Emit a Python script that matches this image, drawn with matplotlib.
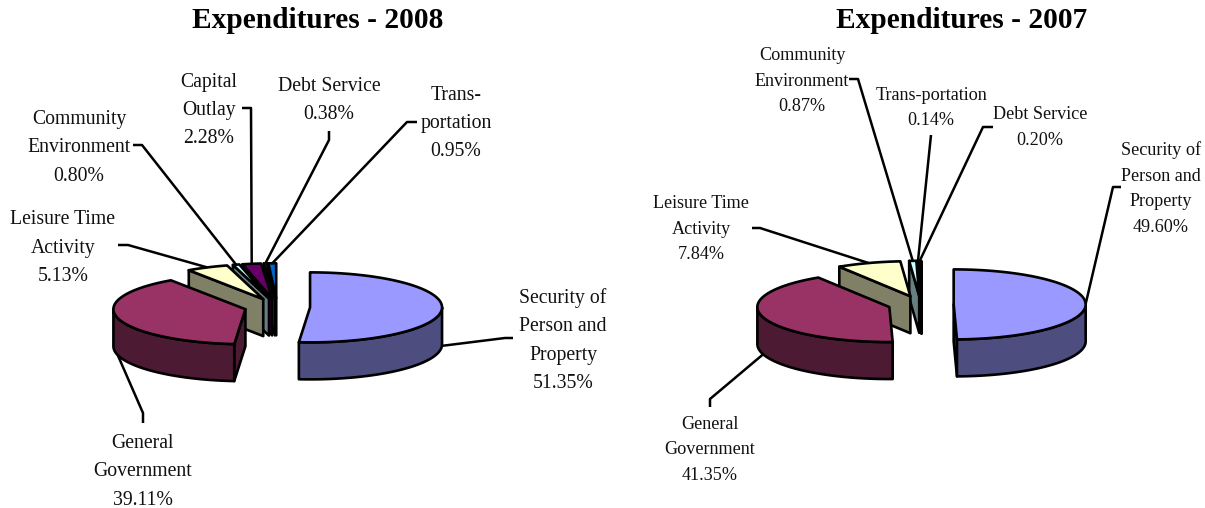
import matplotlib
matplotlib.use("Agg")
import matplotlib.pyplot as plt
import numpy as np
from matplotlib.patches import Polygon

plt.rcParams["font.family"] = ["Liberation Serif", "DejaVu Serif"]

categories_2008 = [
    "Security of\nPerson and\nProperty",
    "General\nGovernment",
    "Leisure Time\nActivity",
    "Community\nEnvironment",
    "Capital\nOutlay",
    "Debt Service",
    "Trans-\nportation",
]
values_2008 = [51.35, 39.11, 5.13, 0.80, 2.28, 0.38, 0.95]
colors_2008 = ["#9999FF", "#993366", "#FFFFCC", "#CCFFFF", "#660066", "#FF8080", "#0066CC"]

categories_2007 = [
    "Security of\nPerson and\nProperty",
    "General\nGovernment",
    "Leisure Time\nActivity",
    "Community\nEnvironment",
    "Trans-portation",
    "Debt Service",
]
values_2007 = [49.60, 41.35, 7.84, 0.87, 0.14, 0.20]
colors_2007 = ["#9999FF", "#993366", "#FFFFCC", "#CCFFFF", "#660066", "#FF8080"]

# label centre and leader elbow(s), in figure pixels
layout_2008 = [
    ((563, 340.5), [(513, 338), (505, 338)]),
    ((143, 472), [(143, 423), (143, 413)]),
    ((63, 248), [(118, 245), (128, 245)]),
    ((79, 148), [(133, 145), (142, 145)]),
    ((209, 110.5), [(242, 108), (251, 108)]),
    ((329, 100.5), [(329, 131), (329, 140)]),
    ((456, 123.5), [(417, 122), (407, 122)]),
]
layout_2007 = [
    ((1161, 188.5), [(1121, 187), (1113, 187)]),
    ((710, 450), [(710, 407), (710, 399)]),
    ((701, 229), [(752, 228), (760, 228)]),
    ((802, 81), [(849, 79), (858, 79)]),
    ((931, 108), [(931, 135)]),
    ((1040, 127.5), [(993, 127), (983, 127)]),
]


def darker(color):
    return tuple(c * 0.5 for c in matplotlib.colors.to_rgb(color))


def ring(cx, cy, start, end, rx=132, ry=35):
    theta = np.radians(np.linspace(start, end, max(int(end - start) * 2, 2)))
    return np.column_stack([cx + rx * np.sin(theta), cy - ry * np.cos(theta)])


def draw_pie(ax, title, title_x, values, colors, categories, layout, center, font_size):
    depth = 37
    explode = 0.249
    rx, ry = 132, 35
    edges = np.cumsum([0] + values) / sum(values) * 360
    style = dict(edgecolor="black", linewidth=1.9, joinstyle="round")

    # back slices first, so the front ones cover them
    for i in reversed(range(len(values))):
        start, end = edges[i], edges[i + 1]
        mid = np.radians((start + end) / 2)
        cx = center[0] + explode * rx * np.sin(mid)
        cy = center[1] - explode * ry * np.cos(mid)
        apex = np.array([[cx, cy]])
        drop = np.array([0, depth])
        side = darker(colors[i])

        for angle, visible in [(start, np.sin(np.radians(start)) < 0), (end, np.sin(np.radians(end)) > 0)]:
            if visible:
                tip = ring(cx, cy, angle, angle + 0.01, rx, ry)[:1]
                ax.add_patch(Polygon(np.vstack([apex, tip, tip + drop, apex + drop]), facecolor=side, **style))

        low, high = max(start, 90), min(end, 270)
        if low < high:
            arc = ring(cx, cy, low, high, rx, ry)
            ax.add_patch(Polygon(np.vstack([arc, (arc + drop)[::-1]]), facecolor=side, **style))

        top = ring(cx, cy, start, end, rx, ry)
        ax.add_patch(Polygon(np.vstack([apex, top]), facecolor=colors[i], **style))

    for i, (label_pos, elbow) in enumerate(layout):
        mid = np.radians((edges[i] + edges[i + 1]) / 2)
        cx = center[0] + explode * rx * np.sin(mid)
        cy = center[1] - explode * ry * np.cos(mid)
        x = cx + rx * np.sin(mid)
        y = cy - ry * np.cos(mid)
        if elbow[-1][1] > y:
            y += depth
        xs = [p[0] for p in elbow] + [x]
        ys = [p[1] for p in elbow] + [y]
        ax.plot(xs, ys, color="black", linewidth=1.8, solid_capstyle="butt", zorder=1)
        ax.text(
            label_pos[0],
            label_pos[1],
            f"{categories[i]}\n{values[i]:.2f}%",
            ha="center",
            va="center",
            fontsize=font_size,
            linespacing=1.65,
            color="#111111",
        )

    ax.text(title_x, 28, title, ha="center", va="baseline", fontsize=21.2, fontweight="bold")


fig = plt.figure(figsize=(12.05, 5.08), dpi=100)
ax = fig.add_axes([0, 0, 1, 1])
ax.set_xlim(0, 1205)
ax.set_ylim(508, 0)
ax.axis("off")

draw_pie(ax, "Expenditures - 2008", 318, values_2008, colors_2008, categories_2008, layout_2008, (277.2, 307), 14.2)
draw_pie(ax, "Expenditures - 2007", 962, values_2007, colors_2007, categories_2007, layout_2007, (920.8, 304.5), 13.1)

fig.savefig("out.png", dpi=100)
plt.close(fig)
